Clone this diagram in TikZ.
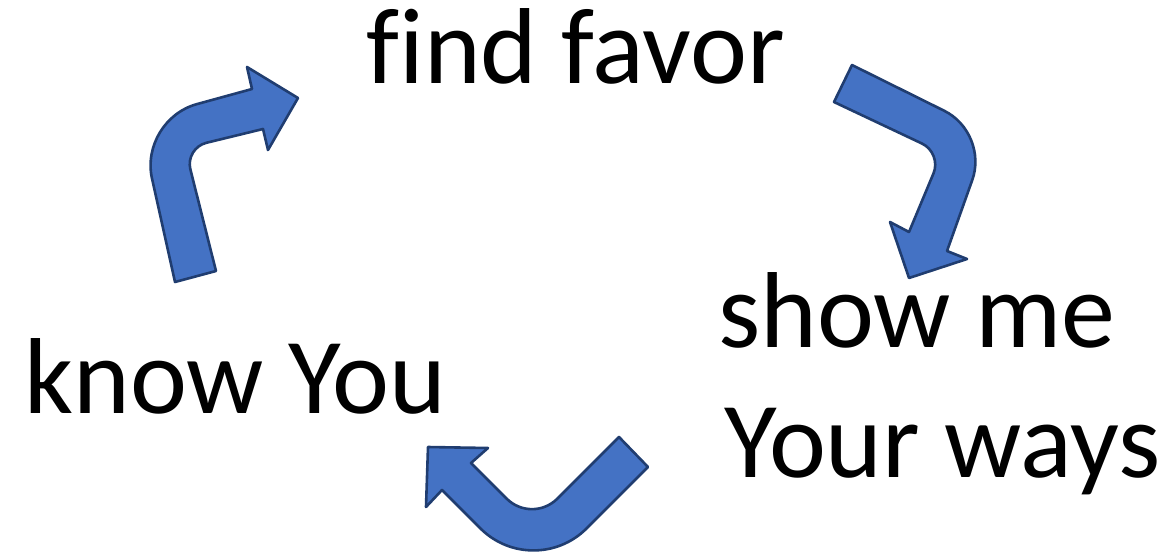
\documentclass[tikz,border=0pt]{standalone}
\usepackage{fontspec}
\setmainfont{Carlito}[Ligatures=CommonOff]
\usetikzlibrary{calc}
\definecolor{arrowfill}{HTML}{4472C4}
\definecolor{arrowline}{HTML}{203D70}
\tikzset{label/.style={anchor=base west, inner sep=0pt, font=\fontsize{54}{65}\selectfont},
    arrowshape/.style={draw=arrowline, fill=arrowfill, line width=1.3pt, line join=round}}

\begin{document}
\begin{tikzpicture}[x=0.5pt, y=-0.5pt]
		\useasboundingbox (0,0) rectangle (1166,552);
		\node [label] (favor) at (366,83) {find favor};
		\node [label] (show) at (718,347) {show me};
		\node [label] (ways) at (724,477) {Your ways};
		\node [label] (know) at (24,413) {know You};

		% arrow from know You up to find favor
		\coordinate (a1) at (175,282); \coordinate (a2) at (216,271);
		\coordinate (ci1) at (185,148); \coordinate (co1) at (139,120);
		\coordinate (h1) at (263,129); \coordinate (h2) at (252,89);
		\coordinate (b1) at (268,150); \coordinate (b2) at (247,67);
		\coordinate (tip1) at (298,98);
		\draw [arrowshape] (a1) -- (a2)
			-- ($(ci1)!11pt!(a2)$) .. controls ($(ci1)!5pt!(a2)$) and ($(ci1)!5pt!(h1)$) .. ($(ci1)!11pt!(h1)$)
			-- (h1) -- (b1) -- (tip1) -- (b2) -- (h2)
			-- ($(co1)!30pt!(h2)$) .. controls ($(co1)!13.5pt!(h2)$) and ($(co1)!13.5pt!(a1)$) .. ($(co1)!30pt!(a1)$)
			-- cycle;

		% arrow from find favor down to show me
		\coordinate (c1) at (852,65); \coordinate (c2) at (834,102);
		\coordinate (ci2) at (942,153); \coordinate (co2) at (989,133);
		\coordinate (k1) at (909,232); \coordinate (k2) at (947,251);
		\coordinate (d1) at (890,222); \coordinate (d2) at (967,259);
		\coordinate (tip2) at (909,278);
		\draw [arrowshape] (c1) -- (c2)
			-- ($(ci2)!11pt!(c2)$) .. controls ($(ci2)!5pt!(c2)$) and ($(ci2)!5pt!(k1)$) .. ($(ci2)!11pt!(k1)$)
			-- (k1) -- (d1) -- (tip2) -- (d2) -- (k2)
			-- ($(co2)!25pt!(k2)$) .. controls ($(co2)!11pt!(k2)$) and ($(co2)!11pt!(c1)$) .. ($(co2)!25pt!(c1)$)
			-- cycle;

		% arrow from Your ways back to know You
		\coordinate (e1) at (619,437); \coordinate (e2) at (648,467);
		\coordinate (ci3) at (532,524); \coordinate (co3) at (533.5,581.5);
		\coordinate (m1) at (471,463); \coordinate (m2) at (442,490);
		\coordinate (f1) at (488,448); \coordinate (f2) at (426,507);
		\coordinate (tip3) at (428,447);
		\draw [arrowshape] (e1) -- (e2)
			-- ($(co3)!37.5pt!(e2)$) .. controls ($(co3)!16.8pt!(e2)$) and ($(co3)!16.8pt!(m2)$) .. ($(co3)!37.5pt!(m2)$)
			-- (m2) -- (f2) -- (tip3) -- (f1) -- (m1)
			-- ($(ci3)!18pt!(m1)$) .. controls ($(ci3)!8pt!(m1)$) and ($(ci3)!8pt!(e1)$) .. ($(ci3)!18pt!(e1)$)
			-- cycle;
	\end{tikzpicture}
\end{document}
